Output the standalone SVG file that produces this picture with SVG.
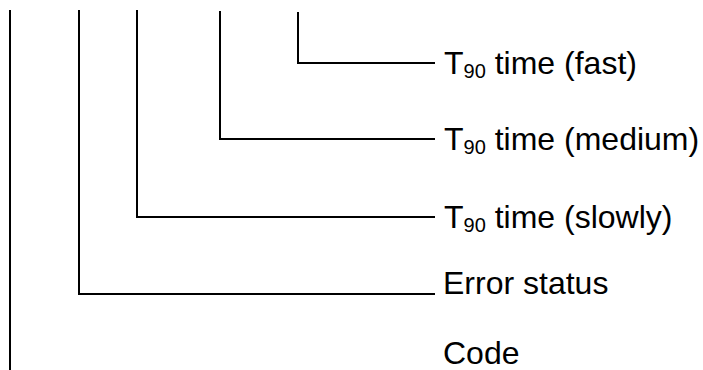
<svg xmlns="http://www.w3.org/2000/svg" width="703" height="370" viewBox="0 0 703 370">
<style>
.ln{stroke:#000;stroke-width:2;fill:none}
.t{font-family:"Liberation Sans",Arial,sans-serif;font-size:32px;fill:#000}
.s{font-size:20px}
</style>
<rect width="703" height="370" fill="#fff"/>
<g id="connectors">
<path class="ln" d="M10,10 V370"/>
<path class="ln" d="M79,10 V294 H435"/>
<path class="ln" d="M137,10 V217 H435"/>
<path class="ln" d="M220,11 V139 H435"/>
<path class="ln" d="M298,12 V63 H435"/>
</g>
<g id="fast"><text class="t" x="444" y="74">T<tspan class="s" dy="4">90</tspan><tspan dy="-4"> time (fast)</tspan></text></g>
<g id="medium"><text class="t" x="444" y="150">T<tspan class="s" dy="4">90</tspan><tspan dy="-4"> time (medium)</tspan></text></g>
<g id="slowly"><text class="t" x="444" y="228">T<tspan class="s" dy="4">90</tspan><tspan dy="-4"> time (slowly)</tspan></text></g>
<g id="error"><text class="t" x="443" y="294">Error status</text></g>
<g id="code"><text class="t" x="443" y="364">Code</text></g>
</svg>
